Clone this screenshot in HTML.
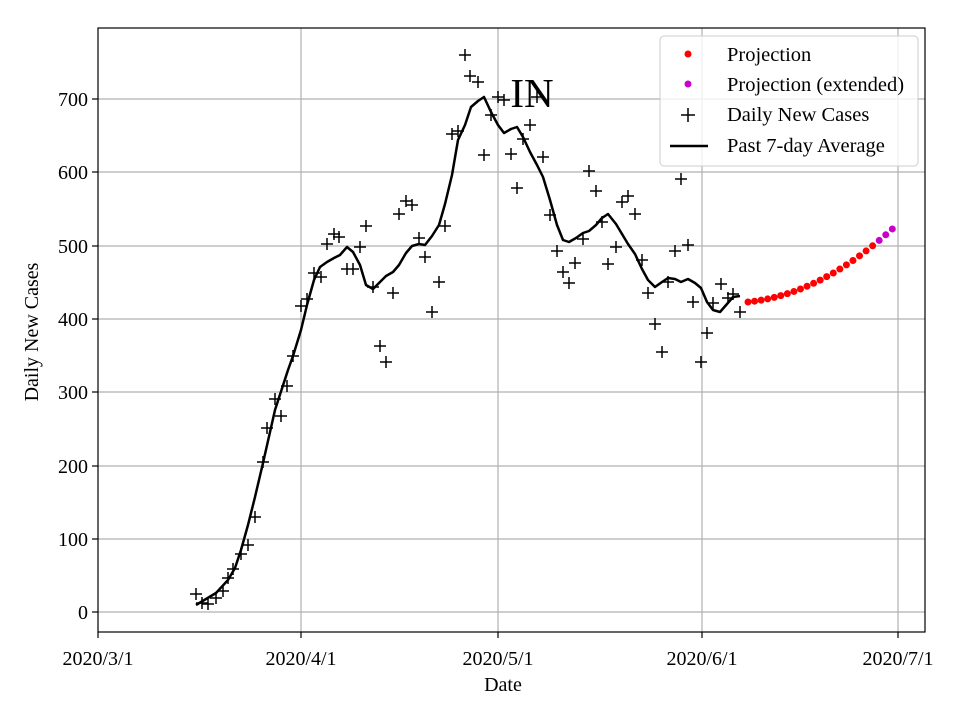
<!DOCTYPE html>
<html><head><meta charset="utf-8"><style>body{margin:0;background:#fff}svg{display:block}text{font-family:"Liberation Serif",serif;fill:#000}</style></head>
<body>
<svg width="960" height="720" viewBox="0 0 960 720" xmlns="http://www.w3.org/2000/svg">
<rect width="960" height="720" fill="#fff"/>
<g stroke="#b0b0b0" stroke-width="1.2">
<line x1="301" y1="28" x2="301" y2="632"/><line x1="498" y1="28" x2="498" y2="632"/><line x1="702" y1="28" x2="702" y2="632"/><line x1="898" y1="28" x2="898" y2="632"/>
<line x1="98" y1="612" x2="925" y2="612"/><line x1="98" y1="539" x2="925" y2="539"/><line x1="98" y1="466" x2="925" y2="466"/><line x1="98" y1="392" x2="925" y2="392"/><line x1="98" y1="319" x2="925" y2="319"/><line x1="98" y1="246" x2="925" y2="246"/><line x1="98" y1="172" x2="925" y2="172"/><line x1="98" y1="99" x2="925" y2="99"/>
</g>
<polyline fill="none" stroke="#000" stroke-width="2.5" stroke-linejoin="round" points="196,605 216,593 228,580 235,568 241,550 248,525 255,497 263,463 275,410 288,370 293,356 301,330 307,305 314,280 320,267 327,262 334,258 340,255 347,247 353,252 360,265 366,285 373,289 380,282 386,276 393,272 399,265 406,253 412,246 419,244 425,245 432,236 439,225 445,204 452,175 458,140 465,125 471,107 478,101 484,97 491,112 498,125 504,133 511,129 517,127 523,137 530,152 537,165 543,177 550,200 557,225 563,240 569,242 576,238 583,233 589,231 596,225 602,218 608,214 616,224 622,234 628,244 635,254 642,269 648,280 655,287 662,282 668,278 675,279 681,282 688,279 695,283 701,288 707,302 713,310 720,312 727,304 733,297 740,296"/>
<g id="m" stroke="#000" stroke-width="1.5" fill="none"></g>
<g id="d"></g>
<text x="532" y="107" font-size="41" text-anchor="middle">IN</text>
<rect x="98" y="28" width="827" height="604" fill="none" stroke="#000" stroke-width="1.2"/>
<g stroke="#000" stroke-width="1.2">
<line x1="98" y1="632" x2="98" y2="638"/><line x1="301" y1="632" x2="301" y2="638"/><line x1="498" y1="632" x2="498" y2="638"/><line x1="702" y1="632" x2="702" y2="638"/><line x1="898" y1="632" x2="898" y2="638"/>
<line x1="92" y1="612" x2="98" y2="612"/><line x1="92" y1="539" x2="98" y2="539"/><line x1="92" y1="466" x2="98" y2="466"/><line x1="92" y1="392" x2="98" y2="392"/><line x1="92" y1="319" x2="98" y2="319"/><line x1="92" y1="246" x2="98" y2="246"/><line x1="92" y1="172" x2="98" y2="172"/><line x1="92" y1="99" x2="98" y2="99"/>
</g>
<g font-size="20" text-anchor="middle">
<text x="98" y="665">2020/3/1</text><text x="301" y="665">2020/4/1</text><text x="498" y="665">2020/5/1</text><text x="702" y="665">2020/6/1</text><text x="898" y="665">2020/7/1</text>
<text x="503" y="691">Date</text>
</g>
<g font-size="20" text-anchor="end">
<text x="88" y="619">0</text><text x="88" y="546">100</text><text x="88" y="473">200</text><text x="88" y="399">300</text><text x="88" y="326">400</text><text x="88" y="253">500</text><text x="88" y="179">600</text><text x="88" y="106">700</text>
</g>
<text transform="translate(38,332) rotate(-90)" font-size="20" text-anchor="middle">Daily New Cases</text>
<rect x="660" y="36" width="258" height="130" rx="4" fill="#fff" fill-opacity="0.8" stroke="#ccc"/>
<circle cx="688" cy="54" r="3.5" fill="#f00"/><circle cx="688" cy="84" r="3.5" fill="#c0c"/>
<path d="M681 115h14M688 108v14" stroke="#000" stroke-width="1.5"/>
<line x1="670" y1="146" x2="708" y2="146" stroke="#000" stroke-width="2.5"/>
<g font-size="20.5"><text x="727" y="61">Projection</text><text x="727" y="91">Projection (extended)</text><text x="727" y="121">Daily New Cases</text><text x="727" y="152">Past 7-day Average</text></g>
<script>
var P=[[196,594],[202,603],[208,604],[216,598],[223,591],[228,578],[233,569],[241,554],[248,545],[255,517],[263,462],[267,428],[275,399],[281,416],[287,386],[293,356],[301,306],[307,299],[314,273],[321,277],[327,244],[334,234],[339,237],[347,269],[353,269],[360,247],[366,226],[373,287],[380,346],[386,362],[393,293],[399,214],[406,201],[412,205],[419,238],[425,257],[432,312],[439,282],[445,226],[452,134],[458,131],[465,55],[470,76],[478,82],[484,155],[491,115],[498,97],[504,100],[511,154],[517,188],[523,139],[530,125],[537,97],[543,157],[550,215],[557,251],[563,272],[569,283],[575,263],[583,239],[589,171],[596,191],[602,222],[608,264],[616,247],[622,202],[628,196],[635,214],[642,260],[648,293],[655,324],[662,352],[668,282],[675,251],[681,179],[688,245],[693,302],[701,362],[707,333],[713,303],[721,284],[728,298],[733,294],[740,312]];
var m=document.getElementById('m'),s='';
P.forEach(function(p){s+='M'+(p[0]-6)+' '+p[1]+'h12M'+p[0]+' '+(p[1]-6)+'v12';});
var pa=document.createElementNS('http://www.w3.org/2000/svg','path');pa.setAttribute('d',s);m.appendChild(pa);
var d=document.getElementById('d');
for(var i=0;i<23;i++){var v=423+0.9*i+0.165*i*i;var c=document.createElementNS('http://www.w3.org/2000/svg','circle');c.setAttribute('cx',748+i*6.56);c.setAttribute('cy',612-v*0.7329);c.setAttribute('r',3.5);c.setAttribute('fill',i<20?'#f00':'#c0c');d.appendChild(c);}
</script>
</svg>
</body></html>
